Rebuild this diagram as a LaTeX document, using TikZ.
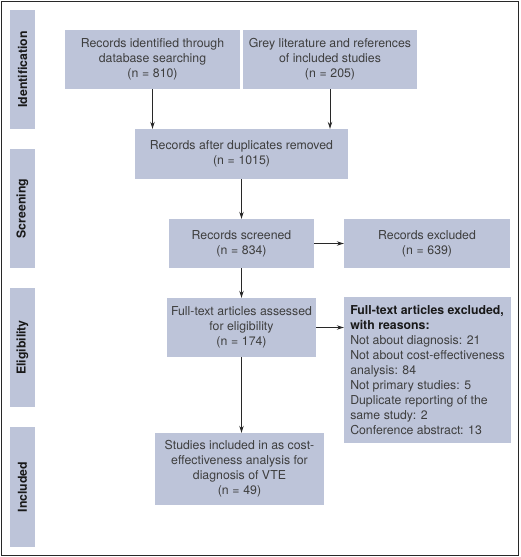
\documentclass[tikz,border=0pt]{standalone}
\usepackage{fontspec}
\setmainfont{TeX Gyre Heros}
\usetikzlibrary{arrows.meta,calc}
\definecolor{boxfill}{RGB}{189,196,217}
\definecolor{txt}{RGB}{62,62,62}
\definecolor{dark}{RGB}{25,25,25}
\definecolor{frame}{RGB}{40,40,40}
\newcommand{\eqsp}{\hspace{0.3em}=\hspace{0.3em}}
\begin{document}
\begin{tikzpicture}[x=1pt,y=1pt,
  every node/.style={font=\fontsize{12.3}{15}\selectfont},
  box/.style={fill=boxfill, draw=none, text=txt, align=center, inner sep=2pt},
  sidebox/.style={fill=boxfill, draw=none, inner sep=0pt, minimum width=25, minimum height=119},
  sidetext/.style={text=dark, rotate=90, font=\fontsize{12.3}{15}\selectfont\bfseries, inner sep=0pt},
  arr/.style={draw=frame, line width=0.8pt, -{Stealth[length=7pt,width=4.5pt]}}
]
\useasboundingbox (0,0) rectangle (520,-557);
\draw[frame, line width=1.3pt] (1.2,-1.2) rectangle (518.3,-555.3);

\node[sidebox] (sid) at (22.5,-69.5) {};
\node[sidebox] (sscr) at (22.5,-208.5) {};
\node[sidebox] (selig) at (22.5,-347.5) {};
\node[sidebox, minimum height=120] (sinc) at (22.5,-487) {};
\node[sidetext] (tid) at (sid.center) {Identification};
\node[sidetext] (tscr) at (sscr.center) {Screening};
\node[sidetext] (telig) at (selig.center) {Eligibility};
\node[sidetext] (tinc) at (sinc.center) {Included};

\node[box, minimum width=175, minimum height=59] (b1) at (152.5,-59.5) {Records identified through\\database searching\\(n\eqsp810)};
\node[box, minimum width=174, minimum height=59] (b2) at (330,-59.5) {Grey literature and references\\of included studies\\(n\eqsp205)};
\node[box, minimum width=213, minimum height=50] (b3) at (241.5,-154) {Records after duplicates removed\\(n\eqsp1015)};
\node[box, minimum width=145, minimum height=49] (b4) at (241.5,-243.5) {Records screened\\(n\eqsp834)};
\node[box, minimum width=166, minimum height=49] (b5) at (427,-243.5) {Records excluded\\(n\eqsp639)};
\node[box, minimum width=149, minimum height=59] (b6) at (241.5,-327.5) {Full-text articles assessed\\for eligibility\\(n\eqsp174)};
\node[box, align=left, minimum width=167, minimum height=146, inner sep=0pt] (b7) at (427.5,-370) {{\color{dark}\bfseries Full-text articles excluded,}\\{\color{dark}\bfseries with reasons:}\\Not about diagnosis: 21\\Not about cost-effectiveness\\analysis: 84\\Not primary studies: 5\\Duplicate reporting of the\\same study: 2\\Conference abstract: 13};
\node[box, minimum width=169, minimum height=72] (b8) at (239.5,-469) {Studies included in as cost-\\effectiveness analysis for\\diagnosis of VTE\\(n\eqsp49)};

\draw[arr] (b1.south) -- (b1.south |- b3.north);
\draw[arr] (b2.south) -- (b2.south |- b3.north);
\draw[arr] (b3.south) -- (b4.north);
\draw[arr] (b4.east) -- (b5.west);
\draw[arr] (b4.south) -- (b6.north);
\draw[arr] (b6.east) -- (b6.east -| b7.west);
\draw[arr] (b6.south) -- (b6.south |- b8.north);
\end{tikzpicture}
\end{document}
